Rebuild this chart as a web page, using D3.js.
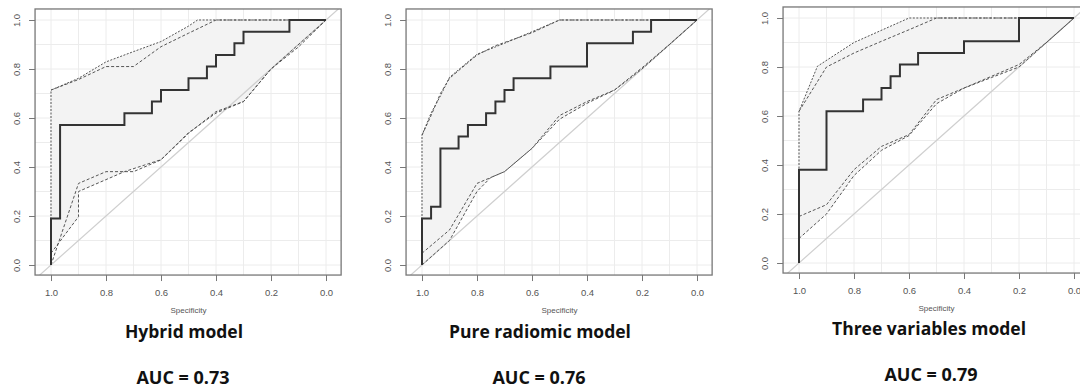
<!DOCTYPE html>
<html>
<head>
<meta charset="utf-8">
<title>ROC curves</title>
<style>
  body { margin: 0; background: #fff; }
  svg { display: block; font-family: "Liberation Sans", Arial, sans-serif; }
  .tick-label { font-size: 9.5px; fill: #555; }
  .axis-title { font-size: 8px; fill: #555; }
  .big { font-family: "Open Sans", Lato, sans-serif; font-weight: 700; fill: #111; }
</style>
</head>
<body>
<svg width="1080" height="388"></svg>
<script src="https://cdnjs.cloudflare.com/ajax/libs/d3/7.8.5/d3.min.js"></script>
<script>

// ROC vertices (specificity, sensitivity), drawn with a step-before curve
var hybridSpec = [1, 0.967, 0.733, 0.633, 0.6, 0.5, 0.433, 0.4, 0.333, 0.3, 0.133, 0];
var hybridSens = [0, 0.190, 0.571, 0.619, 0.667, 0.714, 0.762, 0.810, 0.857, 0.905, 0.952, 1];

var radiomicSpec = [1, 0.967, 0.933, 0.867, 0.833, 0.767, 0.733, 0.7, 0.667, 0.533, 0.4, 0.233, 0.167, 0];
var radiomicSens = [0, 0.190, 0.238, 0.476, 0.524, 0.571, 0.619, 0.667, 0.714, 0.762, 0.810, 0.905, 0.952, 1];

var threeSpec = [1, 0.9, 0.767, 0.7, 0.667, 0.633, 0.567, 0.4, 0.2, 0];
var threeSens = [0, 0.381, 0.619, 0.667, 0.714, 0.762, 0.810, 0.857, 0.905, 1];

// confidence bands: [specificity, sensitivity] vertices
var hybridUpperA = [[1, 0], [1, 0.714], [0.9, 0.762], [0.8, 0.829], [0.7, 0.871], [0.6, 0.912], [0.5, 0.975], [0.467, 1], [0, 1]];
var hybridUpperB = [[1, 0.714], [0.9, 0.757], [0.8, 0.81], [0.7, 0.81], [0.6, 0.891], [0.5, 0.946], [0.4, 1], [0, 1]];
var hybridLowerA = [[1, 0], [0.9, 0.333], [0.8, 0.381], [0.7, 0.381], [0.6, 0.429], [0.5, 0.537], [0.4, 0.626], [0.3, 0.667], [0.2, 0.8], [0.1, 0.89], [0, 1]];
var hybridLowerB = [[1, 0.048], [0.9, 0.197], [0.9, 0.3], [0.733, 0.381], [0.6, 0.43], [0.5, 0.54], [0.4, 0.62], [0.3, 0.667], [0.2, 0.8], [0, 1]];

var radiomicUpperA = [[1, 0], [1, 0.53], [0.967, 0.62], [0.933, 0.69], [0.9, 0.766], [0.8, 0.86], [0.7, 0.905], [0.6, 0.952], [0.5, 1], [0, 1]];
var radiomicUpperB = [[1, 0.53], [0.967, 0.61], [0.933, 0.70], [0.9, 0.762], [0.8, 0.857], [0.733, 0.895], [0.6, 0.948], [0.5, 1], [0, 1]];
var radiomicLowerA = [[1, 0.048], [0.9, 0.143], [0.8, 0.333], [0.7, 0.381], [0.6, 0.476], [0.5, 0.61], [0.4, 0.667], [0.3, 0.714], [0.2, 0.805], [0.1, 0.9], [0, 1]];
var radiomicLowerB = [[1, 0], [0.9, 0.1], [0.8, 0.3], [0.75, 0.357], [0.7, 0.381], [0.6, 0.476], [0.5, 0.595], [0.4, 0.66], [0.3, 0.714], [0.2, 0.8], [0, 1]];

var threeUpperA = [[1, 0], [1, 0.619], [0.933, 0.803], [0.8, 0.9], [0.6, 1], [0, 1]];
var threeUpperB = [[1, 0.619], [0.9, 0.8], [0.8, 0.857], [0.7, 0.905], [0.6, 0.952], [0.5, 1], [0, 1]];
var threeLowerA = [[1, 0.19], [0.9, 0.238], [0.8, 0.381], [0.7, 0.476], [0.6, 0.524], [0.5, 0.667], [0.4, 0.714], [0.3, 0.762], [0.2, 0.81], [0.1, 0.9], [0, 1]];
var threeLowerB = [[1, 0.1], [0.9, 0.2], [0.8, 0.357], [0.7, 0.46], [0.6, 0.52], [0.5, 0.65], [0.4, 0.714], [0.3, 0.757], [0.2, 0.8], [0, 1]];

var modelNames = ["Hybrid model", "Pure radiomic model", "Three variables model"];
var aucValues = ["0.73", "0.76", "0.79"];
var tickValues = [0, 0.2, 0.4, 0.6, 0.8, 1];
var gridValues = d3.range(0, 1.01, 0.1);

var panels = [
    {spec: hybridSpec, sens: hybridSens, upper: [hybridUpperA, hybridUpperB], lower: [hybridLowerA, hybridLowerB],
     left: 51, top: 20, titleX: 184, titleY: 338, aucX: 183, aucY: 384},
    {spec: radiomicSpec, sens: radiomicSens, upper: [radiomicUpperA, radiomicUpperB], lower: [radiomicLowerA, radiomicLowerB],
     left: 422, top: 20, titleX: 540, titleY: 338, aucX: 539, aucY: 384},
    {spec: threeSpec, sens: threeSens, upper: [threeUpperA, threeUpperB], lower: [threeLowerA, threeLowerB],
     left: 799, top: 18, titleX: 929, titleY: 335, aucX: 931, aucY: 381}
];

var svg = d3.select("svg");
var w = 275, h = 245;

panels.forEach(function(p, i) {
    var x = d3.scaleLinear().domain([1, 0]).range([p.left, p.left + w]);
    var y = d3.scaleLinear().domain([0, 1]).range([p.top + h, p.top]);
    var bx0 = x(1.058), bx1 = x(-0.055), by0 = y(-0.041), by1 = y(1.045);

    var g = svg.append("g");

    g.append("clipPath").attr("id", "clip" + i)
        .append("rect").attr("x", bx0).attr("y", by1).attr("width", bx1 - bx0).attr("height", by0 - by1);

    var inner = g.append("g").attr("clip-path", "url(#clip" + i + ")");

    // grid
    inner.selectAll(".gx").data(gridValues).enter().append("line")
        .attr("x1", function(d) { return x(d); }).attr("x2", function(d) { return x(d); })
        .attr("y1", by1).attr("y2", by0)
        .attr("stroke", "#ececec").attr("stroke-width", 1);
    inner.selectAll(".gy").data(gridValues).enter().append("line")
        .attr("y1", function(d) { return y(d); }).attr("y2", function(d) { return y(d); })
        .attr("x1", bx0).attr("x2", bx1)
        .attr("stroke", "#ececec").attr("stroke-width", 1);

    var line = d3.line().x(function(d) { return x(d[0]); }).y(function(d) { return y(d[1]); });

    // band fill
    var poly = p.upper[0].concat(p.lower[1].slice().reverse());
    inner.append("path").attr("d", line(poly) + "Z").attr("fill", "#f3f3f3");

    // chance diagonal
    inner.append("line")
        .attr("x1", x(1.1)).attr("y1", y(-0.1)).attr("x2", x(-0.1)).attr("y2", y(1.1))
        .attr("stroke", "#cfcfcf").attr("stroke-width", 1.2);

    // CI lines
    p.upper.concat(p.lower).forEach(function(pts, k) {
        inner.append("path").attr("d", line(pts))
            .attr("fill", "none").attr("stroke", "#555")
            .attr("stroke-width", 1)
            .attr("stroke-dasharray", k === 0 ? "2,1.5" : "3,2");
    });

    // ROC curve
    var rocPts = p.spec.map(function(s, j) { return [s, p.sens[j]]; });
    inner.append("path")
        .attr("d", d3.line().curve(d3.curveStepBefore)
            .x(function(d) { return x(d[0]); }).y(function(d) { return y(d[1]); })(rocPts))
        .attr("fill", "none").attr("stroke", "#333").attr("stroke-width", 2);

    // box
    g.append("rect").attr("x", bx0).attr("y", by1).attr("width", bx1 - bx0).attr("height", by0 - by1)
        .attr("fill", "none").attr("stroke", "#777").attr("stroke-width", 1.3);

    // axes
    var xAxis = d3.axisBottom(x).tickValues(tickValues).tickSize(6).tickPadding(6)
        .tickFormat(d3.format(".1f"));
    var gx = g.append("g").attr("transform", "translate(0," + by0 + ")").call(xAxis);
    gx.select(".domain").remove();
    gx.selectAll("line").attr("stroke", "#777");
    gx.selectAll("text").attr("class", "tick-label").attr("dy", "0.9em");

    var yAxis = d3.axisLeft(y).tickValues(tickValues).tickSize(6).tickFormat(d3.format(".1f"));
    var gy = g.append("g").attr("transform", "translate(" + bx0 + ",0)").call(yAxis);
    gy.select(".domain").remove();
    gy.selectAll("line").attr("stroke", "#777");
    gy.selectAll("text").attr("class", "tick-label")
        .attr("x", 0).attr("dy", "0.35em")
        .attr("text-anchor", "middle")
        .attr("transform", "translate(-18,0) rotate(-90)");

    g.append("text").attr("class", "axis-title")
        .attr("x", (x(1) + x(0)) / 2).attr("y", by0 + 38)
        .attr("text-anchor", "middle").text("Specificity");

    g.append("text").attr("class", "big").attr("font-size", 17.5)
        .attr("x", p.titleX).attr("y", p.titleY)
        .attr("text-anchor", "middle").text(modelNames[i]);

    g.append("text").attr("class", "big").attr("font-size", 18)
        .attr("x", p.aucX).attr("y", p.aucY)
        .attr("text-anchor", "middle").text("AUC = " + aucValues[i]);
});

</script>
</body>
</html>
